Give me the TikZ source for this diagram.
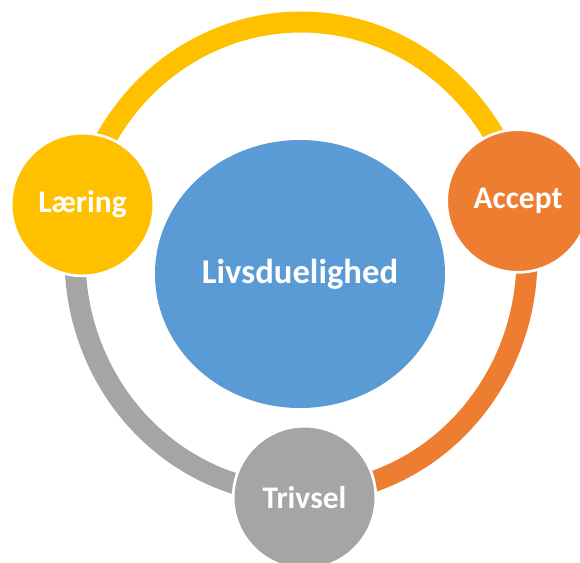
\documentclass[tikz,border=0pt]{standalone}
\usepackage{fontspec}
\setmainfont{Carlito}
\usetikzlibrary{shapes.geometric}
\definecolor{cyellow}{HTML}{FFC000}
\definecolor{corange}{HTML}{ED7D31}
\definecolor{cgray}{HTML}{A5A5A5}
\definecolor{cblue}{HTML}{5B9BD5}
\tikzset{
  ringarc/.style={line width=15.75pt, line cap=butt},
  smallcircle/.style={circle, minimum size=107pt, inner sep=0pt, draw=white, line width=2pt,
    text=white, font=\fontsize{23.6}{28}\selectfont\bfseries},
  bigellipse/.style={ellipse, minimum width=217.5pt, minimum height=201pt, inner sep=0pt,
    fill=cblue, text=white, font=\fontsize{26}{31}\selectfont\bfseries}
}
\begin{document}
\begin{tikzpicture}[x=0.75pt, y=-0.75pt]
\useasboundingbox (0,0) rectangle (580,562);
% ring segments (ellipse centre 301,258; radii 226,236)
\draw[ringarc, cyellow] plot[domain=193:346, samples=120] ({301+226*cos(\x)}, {258+236*sin(\x)});
\draw[ringarc, corange] plot[domain=346:450, samples=100] ({301+226*cos(\x)}, {258+236*sin(\x)});
\draw[ringarc, cgray] plot[domain=90:193, samples=100] ({301+226*cos(\x)}, {258+236*sin(\x)});
% nodes
\node[bigellipse] (centre) at (300,274) {Livsduelighed};
\node[smallcircle, fill=cyellow] (laering) at (82.5,204.5) {Læring};
\node[smallcircle, fill=corange] (accept) at (518,201) {Accept};
\node[smallcircle, fill=cgray] (trivsel) at (304.5,497.5) {Trivsel};
\end{tikzpicture}
\end{document}
